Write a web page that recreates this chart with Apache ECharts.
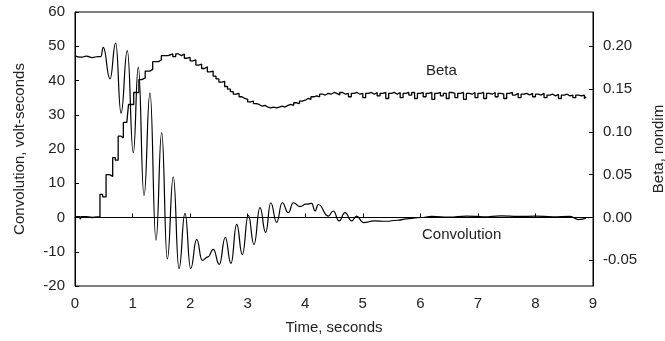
<!DOCTYPE html>
<html>
<head>
<meta charset="utf-8">
<script src="https://cdn.jsdelivr.net/npm/echarts@6/dist/echarts.min.js"></script>
<style>
  html, body { margin: 0; padding: 0; background: #fff; }
  #chart { width: 665px; height: 341px; }
</style>
</head>
<body>
<div id="chart"></div>
<script>
// convolution, volt-seconds (left axis)
const convTime = [0, 0.1, 0.2, 0.3, 0.4, 0.45, 0.49, 0.608, 0.707, 0.8, 0.909, 1.013, 1.1, 1.199, 1.303, 1.407,
  1.506, 1.604, 1.708, 1.807, 1.911, 2.01, 2.114, 2.21, 2.31, 2.403, 2.507, 2.611, 2.71, 2.809, 2.907, 3.011,
  3.11, 3.214, 3.313, 3.4, 3.504, 3.6, 3.706, 3.793, 3.909, 4.01, 4.112, 4.17, 4.227, 4.4, 4.487, 4.59, 4.69,
  4.807, 4.894, 5.01, 5.2, 5.4, 5.6, 5.8, 6.0, 6.2, 6.5, 6.8, 7.1, 7.4, 7.7, 8.0, 8.3, 8.6, 8.75, 8.88];
const convValue = [47.2, 46.8, 47.1, 46.7, 47.0, 47.0, 49.7, 40.5, 50.9, 30.5, 48.7, 18.9, 43.9, 6.4, 36.4, -6.6,
  24.8, -12.1, 11.9, -14.9, 1.2, -14.9, -6.4, -12.5, -11.5, -9.3, -13.7, -5.8, -13.4, -2.0, -10.8, 0.6,
  -7.9, 2.9, -4.4, 4.3, -1.4, 4.3, 1.4, 4.3, 3.2, 3.9, 4.1, 1.9, 3.8, 0.4, 1.9, -1.0, 1.4,
  -1.0, 0.4, -1.5, -1.0, -1.1, -0.8, -0.3, 0.0, 0.3, 0.1, 0.4, 0.2, 0.5, 0.3, 0.4, 0.2, 0.3, -0.6, -0.2];

// beta, nondim (right axis)
const betaTime = [0, 0.09, 0.11, 0.2, 0.3, 0.434, 0.48, 0.54, 0.6, 0.655, 0.7, 0.75, 0.8, 0.84, 0.9, 0.93,
  1.02, 1.11, 1.16, 1.22, 1.3, 1.35, 1.45, 1.5, 1.62, 1.7, 1.75, 1.8, 1.85, 1.9, 1.95, 2.0, 2.05, 2.1, 2.15,
  2.2, 2.25, 2.3, 2.35, 2.4, 2.45, 2.5, 2.55, 2.6, 2.65, 2.7, 2.75, 2.8, 2.85, 2.9, 2.95, 3.0, 3.05, 3.1,
  3.15, 3.2, 3.25, 3.3, 3.35, 3.4, 3.45, 3.5, 3.55, 3.6, 3.65, 3.7, 3.75, 3.8, 3.85, 3.9, 3.95, 4.0, 4.05,
  4.1, 4.15, 4.2, 4.25, 4.3, 4.35, 4.4, 4.45,
  4.50, 4.55, 4.60, 4.65, 4.70, 4.75, 4.80, 4.85, 4.90, 4.95, 5.00, 5.05, 5.10, 5.15, 5.20, 5.25, 5.30,
  5.35, 5.40, 5.45, 5.50, 5.55, 5.60, 5.65, 5.70, 5.75, 5.80, 5.85, 5.90, 5.95, 6.00, 6.05, 6.10, 6.15,
  6.20, 6.25, 6.30, 6.35, 6.40, 6.45, 6.50, 6.55, 6.60, 6.65, 6.70, 6.75, 6.80, 6.85, 6.90, 6.95, 7.00,
  7.05, 7.10, 7.15, 7.20, 7.25, 7.30, 7.35, 7.40, 7.45, 7.50, 7.55, 7.60, 7.65, 7.70, 7.75, 7.80, 7.85,
  7.90, 7.95, 8.00, 8.05, 8.10, 8.15, 8.20, 8.25, 8.30, 8.35, 8.40, 8.45, 8.50, 8.55, 8.60, 8.65, 8.70,
  8.75, 8.80, 8.85, 8.88];
const betaValue = [0.001, -0.002, 0.001, 0.000, 0.001, 0.027, 0.024, 0.050, 0.048, 0.070, 0.067, 0.095, 0.093, 0.111, 0.109, 0.132,
  0.146, 0.161, 0.163, 0.171, 0.173, 0.182, 0.184, 0.189, 0.191, 0.188, 0.191, 0.189, 0.191, 0.186, 0.187, 0.183, 0.184, 0.178, 0.179,
  0.174, 0.176, 0.170, 0.171, 0.165, 0.162, 0.158, 0.159, 0.153, 0.150, 0.147, 0.144, 0.145, 0.141, 0.139, 0.138, 0.135, 0.136, 0.133,
  0.132, 0.130, 0.131, 0.129, 0.128, 0.129, 0.128, 0.129, 0.130, 0.129, 0.131, 0.132, 0.131, 0.134, 0.133, 0.136, 0.137, 0.139, 0.138,
  0.141, 0.142, 0.141, 0.144, 0.143, 0.145, 0.144, 0.146,
  0.145, 0.143, 0.146, 0.144, 0.145, 0.141, 0.145, 0.146, 0.144, 0.145, 0.140, 0.145, 0.146, 0.144, 0.146, 0.142, 0.145,
  0.146, 0.139, 0.145, 0.146, 0.144, 0.146, 0.140, 0.145, 0.146, 0.143, 0.146, 0.139, 0.145, 0.146, 0.141, 0.145, 0.146,
  0.138, 0.145, 0.146, 0.142, 0.145, 0.139, 0.146, 0.145, 0.140, 0.145, 0.146, 0.138, 0.145, 0.144, 0.146, 0.140, 0.145,
  0.146, 0.139, 0.145, 0.144, 0.146, 0.141, 0.145, 0.144, 0.139, 0.145, 0.146, 0.143, 0.145, 0.140, 0.144, 0.145, 0.143,
  0.145, 0.141, 0.144, 0.143, 0.145, 0.140, 0.143, 0.144, 0.142, 0.144, 0.139, 0.143, 0.144, 0.142, 0.143, 0.140, 0.143,
  0.142, 0.143, 0.139, 0.141];

const betaTicks = [-0.05, 0, 0.05, 0.1, 0.15, 0.2];

const FONT = 'Liberation Sans, Arial, sans-serif';
const myChart = echarts.init(document.getElementById('chart'));

const option = {
  animation: false,
  grid: {
    left: 75, right: 72, top: 12, bottom: 55,
    outerBoundsMode: 'none',
    show: true, borderColor: '#000', borderWidth: 1
  },
  xAxis: {
    type: 'value',
    min: 0, max: 9, interval: 1,
    name: 'Time, seconds',
    nameLocation: 'middle',
    nameGap: 34,
    nameTextStyle: { fontFamily: FONT, fontSize: 15, color: '#222' },
    axisLine: { lineStyle: { color: '#000' } },
    axisTick: { inside: true, length: 4, lineStyle: { color: '#000' } },
    axisLabel: { fontFamily: FONT, fontSize: 15, color: '#222', margin: 10 },
    splitLine: { show: false }
  },
  yAxis: [
    {
      type: 'value',
      min: -20, max: 60, interval: 10,
      name: 'Convolution, volt-seconds',
      nameLocation: 'middle',
      nameGap: 48,
      nameTextStyle: { fontFamily: FONT, fontSize: 15, color: '#222' },
      axisLine: { show: true, lineStyle: { color: '#000' } },
      axisTick: { inside: true, length: 4, lineStyle: { color: '#000' } },
      axisLabel: { fontFamily: FONT, fontSize: 15, color: '#222', margin: 10 },
      splitLine: { show: false }
    },
    {
      type: 'value',
      position: 'right',
      min: -0.08, max: 0.24,
      name: 'Beta, nondim',
      nameLocation: 'middle',
      nameGap: 58,
      nameRotate: 90,
      nameTextStyle: { fontFamily: FONT, fontSize: 15, color: '#222' },
      axisLine: { show: true, lineStyle: { color: '#000' } },
      axisTick: { inside: true, length: 4, customValues: betaTicks, lineStyle: { color: '#000' } },
      axisLabel: {
        fontFamily: FONT, fontSize: 15, color: '#222', margin: 10,
        customValues: betaTicks,
        formatter: v => v.toFixed(2)
      },
      splitLine: { show: false }
    }
  ],
  graphic: [
    { type: 'text', left: 426, top: 63, style: { text: 'Beta', font: '15px ' + FONT, fill: '#222' } },
    { type: 'text', left: 422, top: 227, style: { text: 'Convolution', font: '15px ' + FONT, fill: '#222' } }
  ],
  series: [
    {
      name: 'Convolution',
      type: 'line',
      yAxisIndex: 0,
      data: convTime.map((t, i) => [t, convValue[i]]),
      smooth: 0.5,
      smoothMonotone: 'x',
      showSymbol: false,
      lineStyle: { color: '#000', width: 1.2 },
      markLine: {
        silent: true,
        symbol: 'none',
        label: { show: false },
        lineStyle: { color: '#000', width: 1, type: 'solid' },
        data: [{ yAxis: 0 }]
      }
    },
    {
      name: 'Beta',
      type: 'line',
      yAxisIndex: 1,
      data: betaTime.map((t, i) => [t, betaValue[i]]),
      step: 'end',
      showSymbol: false,
      lineStyle: { color: '#000', width: 1.3 }
    }
  ]
};

myChart.setOption(option);
</script>
</body>
</html>
